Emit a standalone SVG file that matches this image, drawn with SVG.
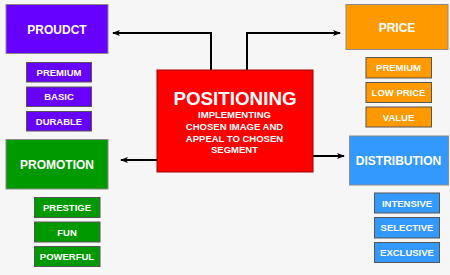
<svg xmlns="http://www.w3.org/2000/svg" width="450" height="275" viewBox="0 0 450 275">
<defs>
<marker id="ah" markerWidth="8" markerHeight="6" refX="7" refY="3" orient="auto" markerUnits="userSpaceOnUse">
<path d="M0,0 L8,3 L0,6 L2,3 Z" fill="#000"/>
</marker>
</defs>
<style>
text{font-family:"Liberation Sans",Arial,sans-serif;font-weight:bold;fill:#fff;text-anchor:middle}
.big{font-size:12px}
.sub{font-size:9.5px}
.cap{font-size:9.5px}
.bx{stroke:#8a8a8a;stroke-width:1}
.pu{fill:#6600ff}.or{fill:#ff9900}.gr{fill:#009900}.bl{fill:#3399ff}.rd{fill:#ff0000;stroke:#a00000;stroke-width:1}
.sb{stroke:#555;stroke-width:1}
.ln{fill:none;stroke:#000;stroke-width:2}
</style>
<rect width="450" height="275" fill="#f6f6f6"/>
<g id="connectors">
<path class="ln" d="M211,70 V33 H113" marker-end="url(#ah)"/>
<path class="ln" d="M247,70 V33 H340" marker-end="url(#ah)"/>
<path class="ln" d="M157,160 H121" marker-end="url(#ah)"/>
<path class="ln" d="M313,156 H344" marker-end="url(#ah)"/>
</g>
<g id="positioning">
<rect class="rd" x="157" y="70" width="156" height="102"/>
<text x="235" y="105" style="font-size:18.8px">POSITIONING</text>
<text class="cap" x="234.5" y="118.3">IMPLEMENTING</text>
<text class="cap" x="234.5" y="130">CHOSEN IMAGE AND</text>
<text class="cap" x="234.5" y="141.7">APPEAL TO CHOSEN</text>
<text class="cap" x="234.5" y="153">SEGMENT</text>
</g>
<g id="product">
<rect class="pu bx" x="6" y="4.5" width="102" height="49"/>
<text class="big" x="57" y="34">PROUDCT</text>
</g>
<g id="product-premium"><rect class="pu sb" x="26.5" y="62.5" width="65" height="19.5"/><text class="sub" x="59" y="75.5">PREMIUM</text></g>
<g id="product-basic"><rect class="pu sb" x="26.5" y="87" width="65" height="19.5"/><text class="sub" x="59" y="100">BASIC</text></g>
<g id="product-durable"><rect class="pu sb" x="26.5" y="111.5" width="65" height="19.5"/><text class="sub" x="59" y="124.5">DURABLE</text></g>
<g id="price">
<rect class="or bx" x="346" y="4.5" width="102" height="45"/>
<text class="big" x="397" y="31.5">PRICE</text>
</g>
<g id="price-premium"><rect class="or sb" x="366" y="57.5" width="65.5" height="20.5"/><text class="sub" x="398.5" y="71">PREMIUM</text></g>
<g id="price-low"><rect class="or sb" x="366" y="82.5" width="65.5" height="20"/><text class="sub" x="398.5" y="96">LOW PRICE</text></g>
<g id="price-value"><rect class="or sb" x="366" y="107" width="65.5" height="20"/><text class="sub" x="398.5" y="120.5">VALUE</text></g>
<g id="promotion">
<rect class="gr bx" x="6" y="139.5" width="102" height="49.5"/>
<text class="big" x="57" y="168.5">PROMOTION</text>
</g>
<g id="promo-prestige"><rect class="gr sb" x="34.5" y="197.5" width="65.5" height="20"/><text class="sub" x="67" y="211">PRESTIGE</text></g>
<g id="promo-fun"><rect class="gr sb" x="34.5" y="222" width="65.5" height="20"/><text class="sub" x="67" y="235.5">FUN</text></g>
<g id="promo-powerful"><rect class="gr sb" x="34.5" y="246.5" width="65.5" height="20"/><text class="sub" x="67" y="260">POWERFUL</text></g>
<g id="distribution">
<rect class="bl bx" x="349.5" y="136" width="99" height="49"/>
<text class="big" x="398.5" y="164.5">DISTRIBUTION</text>
</g>
<g id="dist-intensive"><rect class="bl sb" x="374.5" y="193" width="65" height="20"/><text class="sub" x="407" y="206.5">INTENSIVE</text></g>
<g id="dist-selective"><rect class="bl sb" x="374.5" y="217.5" width="65" height="20.5"/><text class="sub" x="407" y="231">SELECTIVE</text></g>
<g id="dist-exclusive"><rect class="bl sb" x="374.5" y="242.5" width="65" height="20"/><text class="sub" x="407" y="256">EXCLUSIVE</text></g>
</svg>
